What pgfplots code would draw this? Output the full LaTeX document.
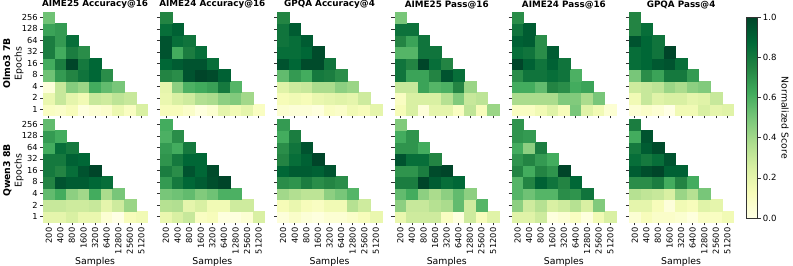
\documentclass[border=0pt]{standalone}
\usepackage{fontspec}
\setmainfont{DejaVu Sans}
\usepackage{pgfplots}
\pgfplotsset{compat=1.18}
\usepgfplotslibrary{groupplots}
\pgfplotsset{colormap={ylgn}{rgb255=(255,255,229) rgb255=(247,252,185) rgb255=(217,240,163) rgb255=(173,221,142) rgb255=(120,198,121) rgb255=(65,171,93) rgb255=(35,132,67) rgb255=(0,104,55) rgb255=(0,69,41)}}
\newcommand{\hm}[1]{\addplot[scatter, only marks, mark=square*, mark size=4.3pt, scatter/use mapped color={draw=mapped color,fill=mapped color}, mark options={line width=0.1pt}, point meta=explicit] table[meta index=2, row sep=\\] {x y v\\#1};}
\begin{document}
\begin{tikzpicture}
\begin{groupplot}[
 group style={group size=6 by 2, horizontal sep=9.7pt, vertical sep=2.6pt, group name=G, x descriptions at=edge bottom, y descriptions at=edge left},
 width=78.2pt, height=77.7pt, scale only axis,
 xmin=-0.5, xmax=8.5, ymin=-0.5, ymax=8.5,
 xtick={0,...,8}, ytick={0,...,8},
 xticklabels={200,400,800,1600,3200,6400,12800,25600,51200},
 yticklabels={1,2,4,8,16,32,64,128,256},
 xticklabel style={rotate=90, anchor=east, font=\fontsize{6.2}{7}\selectfont, inner sep=1.5pt},
 yticklabel style={font=\fontsize{6.2}{7}\selectfont, inner sep=1.5pt},
 axis line style={draw=none},
 tick align=outside, tick pos=left,
 major tick length=2.4pt,
 tick style={black!80, line width=0.45pt},
 colormap name=ylgn, point meta min=0, point meta max=1,
 xlabel={Samples}, xlabel style={font=\fontsize{7}{8}\selectfont, inner sep=1pt},
 title style={font=\bfseries\fontsize{6.6}{7.5}\selectfont, inner sep=1pt, yshift=-5pt},
 ylabel style={align=center, font=\fontsize{7}{8.5}\selectfont, inner sep=1pt, yshift=-4pt},
]
% ---------- Olmo3 7B ----------
\nextgroupplot[title={AIME25 Accuracy@16}, ylabel={\textbf{Olmo3 7B}\\Epochs}]
\hm{0 0 0.10\\1 0 0.08\\2 0 0.12\\3 0 0.02\\4 0 0.05\\5 0 0.07\\6 0 0.17\\7 0 0.10\\8 0 0.25\\
0 1 0.18\\1 1 0.30\\2 1 0.20\\3 1 0.15\\4 1 0.30\\5 1 0.28\\6 1 0.33\\7 1 0.30\\
0 2 0.03\\1 2 0.30\\2 2 0.47\\3 2 0.42\\4 2 0.62\\5 2 0.55\\6 2 0.50\\
0 3 0.52\\1 3 0.68\\2 3 0.75\\3 3 0.82\\4 3 0.88\\5 3 0.72\\
0 4 0.62\\1 4 0.78\\2 4 1.00\\3 4 0.80\\4 4 0.88\\
0 5 0.78\\1 5 0.62\\2 5 0.78\\3 5 0.72\\
0 6 0.78\\1 6 0.68\\2 6 0.85\\
0 7 0.65\\1 7 0.68\\
0 8 0.52\\}
\nextgroupplot[title={AIME24 Accuracy@16}]
\hm{0 0 0.12\\1 0 0.12\\2 0 0.08\\3 0 0.02\\4 0 0.06\\5 0 0.20\\6 0 0.15\\7 0 0.20\\8 0 0.10\\
0 1 0.18\\1 1 0.25\\2 1 0.28\\3 1 0.36\\4 1 0.38\\5 1 0.45\\6 1 0.48\\7 1 0.40\\
0 2 0.20\\1 2 0.45\\2 2 0.60\\3 2 0.63\\4 2 0.66\\5 2 0.80\\6 2 0.58\\
0 3 0.75\\1 3 0.72\\2 3 0.95\\3 3 1.00\\4 3 0.98\\5 3 0.90\\
0 4 0.88\\1 4 0.92\\2 4 0.95\\3 4 0.95\\4 4 0.85\\
0 5 0.95\\1 5 0.62\\2 5 0.78\\3 5 0.85\\
0 6 0.95\\1 6 0.85\\2 6 0.82\\
0 7 0.85\\1 7 0.90\\
0 8 0.75\\}
\nextgroupplot[title={GPQA Accuracy@4}]
\hm{0 0 0.06\\1 0 0.04\\2 0 0.04\\3 0 0.02\\4 0 0.10\\5 0 0.08\\6 0 0.15\\7 0 0.12\\8 0 0.20\\
0 1 0.13\\1 1 0.15\\2 1 0.13\\3 1 0.18\\4 1 0.20\\5 1 0.22\\6 1 0.20\\7 1 0.28\\
0 2 0.22\\1 2 0.28\\2 2 0.30\\3 2 0.38\\4 2 0.38\\5 2 0.45\\6 2 0.42\\
0 3 0.55\\1 3 0.68\\2 3 0.62\\3 3 0.80\\4 3 0.78\\5 3 0.72\\
0 4 0.95\\1 4 0.88\\2 4 0.98\\3 4 0.98\\4 4 0.82\\
0 5 0.85\\1 5 0.85\\2 5 0.88\\3 5 0.98\\
0 6 0.82\\1 6 0.85\\2 6 0.92\\
0 7 0.82\\1 7 0.92\\
0 8 0.75\\}
\nextgroupplot[title={AIME25 Pass@16}]
\hm{0 0 0.13\\1 0 0.25\\2 0 0.03\\3 0 0.20\\4 0 0.20\\5 0 0.10\\6 0 0.32\\7 0 0.12\\8 0 0.42\\
0 1 0.10\\1 1 0.25\\2 1 0.25\\3 1 0.25\\4 1 0.35\\5 1 0.48\\6 1 0.30\\7 1 0.33\\
0 2 0.30\\1 2 0.30\\2 2 0.65\\3 2 0.58\\4 2 0.60\\5 2 0.75\\6 2 0.42\\
0 3 0.82\\1 3 0.65\\2 3 0.65\\3 3 0.75\\4 3 0.95\\5 3 0.85\\
0 4 0.82\\1 4 0.75\\2 4 1.00\\3 4 0.85\\4 4 0.75\\
0 5 0.58\\1 5 0.58\\2 5 0.82\\3 5 0.82\\
0 6 0.75\\1 6 0.65\\2 6 0.82\\
0 7 0.83\\1 7 0.83\\
0 8 0.50\\}
\nextgroupplot[title={AIME24 Pass@16}]
\hm{0 0 0.10\\1 0 0.10\\2 0 0.15\\3 0 0.22\\4 0 0.12\\5 0 0.50\\6 0 0.22\\7 0 0.15\\8 0 0.05\\
0 1 0.38\\1 1 0.38\\2 1 0.38\\3 1 0.38\\4 1 0.48\\5 1 0.48\\6 1 0.38\\7 1 0.50\\
0 2 0.62\\1 2 0.62\\2 2 0.55\\3 2 0.75\\4 2 0.72\\5 2 0.62\\6 2 0.65\\
0 3 0.72\\1 3 0.82\\2 3 0.82\\3 3 0.85\\4 3 0.82\\5 3 0.60\\
0 4 1.00\\1 4 0.90\\2 4 0.82\\3 4 0.90\\4 4 0.82\\
0 5 0.85\\1 5 0.82\\2 5 0.72\\3 5 0.92\\
0 6 0.90\\1 6 0.92\\2 6 0.72\\
0 7 0.82\\1 7 0.92\\
0 8 0.72\\}
\nextgroupplot[title={GPQA Pass@4}, colorbar,
 colorbar style={at={(parent axis.north east)}, anchor=north west, xshift=1.6pt, yshift=-4.4pt,
  scale only axis, width=8pt, height=150.4pt,
  xtick=\empty, xticklabels={}, xlabel={}, title={},
  ytick={0,0.2,0.4,0.6,0.8,1}, yticklabels={0.0,0.2,0.4,0.6,0.8,1.0},
  yticklabel style={font=\fontsize{6.4}{7}\selectfont, inner sep=1.5pt},
  ytick pos=right, yticklabel pos=right, tick align=outside, major tick length=2.4pt,
  axis line style={draw=black!80, line width=0.5pt},
  ylabel={Normalized Score}, ylabel style={font=\fontsize{7}{8}\selectfont, rotate=180, inner sep=1pt, yshift=-3pt}}]
\hm{0 0 0.05\\1 0 0.08\\2 0 0.05\\3 0 0.00\\4 0 0.15\\5 0 0.15\\6 0 0.25\\7 0 0.20\\8 0 0.22\\
0 1 0.15\\1 1 0.30\\2 1 0.22\\3 1 0.25\\4 1 0.25\\5 1 0.20\\6 1 0.22\\7 1 0.30\\
0 2 0.28\\1 2 0.30\\2 2 0.33\\3 2 0.42\\4 2 0.38\\5 2 0.45\\6 2 0.48\\
0 3 0.50\\1 3 0.72\\2 3 0.65\\3 3 0.80\\4 3 0.80\\5 3 0.68\\
0 4 0.85\\1 4 0.88\\2 4 0.93\\3 4 0.95\\4 4 0.85\\
0 5 0.85\\1 5 0.88\\2 5 0.82\\3 5 1.00\\
0 6 0.95\\1 6 0.88\\2 6 0.82\\
0 7 0.75\\1 7 0.85\\
0 8 0.75\\}
% ---------- Qwen3 8B ----------
\nextgroupplot[ylabel={\textbf{Qwen3 8B}\\Epochs}]
\hm{0 0 0.20\\1 0 0.20\\2 0 0.25\\3 0 0.18\\4 0 0.18\\5 0 0.05\\6 0 0.00\\7 0 0.12\\8 0 0.15\\
0 1 0.30\\1 1 0.30\\2 1 0.28\\3 1 0.28\\4 1 0.30\\5 1 0.20\\6 1 0.28\\7 1 0.42\\
0 2 0.55\\1 2 0.62\\2 2 0.45\\3 2 0.40\\4 2 0.62\\5 2 0.38\\6 2 0.50\\
0 3 0.75\\1 3 0.95\\2 3 0.92\\3 3 0.92\\4 3 0.88\\5 3 0.85\\
0 4 0.80\\1 4 0.75\\2 4 0.85\\3 4 0.95\\4 4 1.00\\
0 5 0.80\\1 5 0.80\\2 5 0.90\\3 5 0.88\\
0 6 0.62\\1 6 0.85\\2 6 0.80\\
0 7 0.68\\1 7 0.62\\
0 8 0.55\\}
\nextgroupplot
\hm{0 0 0.18\\1 0 0.25\\2 0 0.30\\3 0 0.10\\4 0 0.12\\5 0 0.02\\6 0 0.02\\7 0 0.05\\8 0 0.25\\
0 1 0.35\\1 1 0.36\\2 1 0.20\\3 1 0.25\\4 1 0.15\\5 1 0.15\\6 1 0.28\\7 1 0.28\\
0 2 0.50\\1 2 0.52\\2 2 0.55\\3 2 0.48\\4 2 0.52\\5 2 0.60\\6 2 0.60\\
0 3 0.68\\1 3 0.80\\2 3 0.88\\3 3 0.92\\4 3 0.97\\5 3 1.00\\
0 4 0.78\\1 4 0.72\\2 4 0.95\\3 4 0.88\\4 4 0.98\\
0 5 0.70\\1 5 0.80\\2 5 0.88\\3 5 0.88\\
0 6 0.68\\1 6 0.62\\2 6 0.80\\
0 7 0.60\\1 7 0.72\\
0 8 0.62\\}
\nextgroupplot
\hm{0 0 0.03\\1 0 0.08\\2 0 0.04\\3 0 0.02\\4 0 0.05\\5 0 0.05\\6 0 0.08\\7 0 0.12\\8 0 0.18\\
0 1 0.13\\1 1 0.18\\2 1 0.12\\3 1 0.10\\4 1 0.15\\5 1 0.15\\6 1 0.35\\7 1 0.28\\
0 2 0.40\\1 2 0.36\\2 2 0.33\\3 2 0.33\\4 2 0.45\\5 2 0.50\\6 2 0.58\\
0 3 0.72\\1 3 0.70\\2 3 0.78\\3 3 0.72\\4 3 0.75\\5 3 0.72\\
0 4 0.88\\1 4 0.92\\2 4 0.92\\3 4 0.90\\4 4 0.95\\
0 5 0.75\\1 5 0.85\\2 5 0.90\\3 5 1.00\\
0 6 0.72\\1 6 0.82\\2 6 0.95\\
0 7 0.62\\1 7 0.78\\
0 8 0.68\\}
\nextgroupplot
\hm{0 0 0.18\\1 0 0.28\\2 0 0.28\\3 0 0.28\\4 0 0.10\\5 0 0.02\\6 0 0.28\\7 0 0.12\\8 0 0.22\\
0 1 0.45\\1 1 0.30\\2 1 0.30\\3 1 0.35\\4 1 0.38\\5 1 0.55\\6 1 0.28\\7 1 0.58\\
0 2 0.55\\1 2 0.62\\2 2 0.45\\3 2 0.38\\4 2 0.45\\5 2 0.55\\6 2 0.45\\
0 3 0.78\\1 3 0.78\\2 3 1.00\\3 3 0.92\\4 3 0.85\\5 3 0.88\\
0 4 0.70\\1 4 0.70\\2 4 0.78\\3 4 0.98\\4 4 1.00\\
0 5 0.95\\1 5 0.85\\2 5 0.85\\3 5 0.75\\
0 6 0.70\\1 6 0.70\\2 6 0.62\\
0 7 0.62\\1 7 0.70\\
0 8 0.48\\}
\nextgroupplot
\hm{0 0 0.22\\1 0 0.22\\2 0 0.28\\3 0 0.02\\4 0 0.05\\5 0 0.10\\6 0 0.02\\7 0 0.15\\8 0 0.25\\
0 1 0.45\\1 1 0.28\\2 1 0.35\\3 1 0.25\\4 1 0.28\\5 1 0.35\\6 1 0.25\\7 1 0.48\\
0 2 0.58\\1 2 0.52\\2 2 0.58\\3 2 0.58\\4 2 0.72\\5 2 0.70\\6 2 0.82\\
0 3 0.58\\1 3 0.75\\2 3 0.90\\3 3 0.82\\4 3 0.75\\5 3 0.88\\
0 4 0.75\\1 4 0.62\\2 4 0.75\\3 4 0.70\\4 4 1.00\\
0 5 0.70\\1 5 0.75\\2 5 0.68\\3 5 0.62\\
0 6 0.62\\1 6 0.45\\2 6 0.78\\
0 7 0.70\\1 7 0.68\\
0 8 0.70\\}
\nextgroupplot
\hm{0 0 0.05\\1 0 0.12\\2 0 0.08\\3 0 0.08\\4 0 0.06\\5 0 0.02\\6 0 0.10\\7 0 0.10\\8 0 0.15\\
0 1 0.20\\1 1 0.20\\2 1 0.12\\3 1 0.03\\4 1 0.15\\5 1 0.12\\6 1 0.22\\7 1 0.20\\
0 2 0.35\\1 2 0.32\\2 2 0.30\\3 2 0.25\\4 2 0.42\\5 2 0.35\\6 2 0.50\\
0 3 0.72\\1 3 0.72\\2 3 0.78\\3 3 0.62\\4 3 0.75\\5 3 0.62\\
0 4 0.92\\1 4 0.97\\2 4 1.00\\3 4 0.90\\4 4 0.90\\
0 5 0.85\\1 5 0.80\\2 5 0.85\\3 5 0.95\\
0 6 0.80\\1 6 0.92\\2 6 0.98\\
0 7 0.62\\1 7 0.95\\
0 8 0.78\\}
\end{groupplot}
\pgfresetboundingbox
\path[use as bounding box] (G c1r1.north west) ++(-32.25pt,8.7pt) rectangle ++(594.75pt,-199.5pt);
\end{tikzpicture}
\end{document}
